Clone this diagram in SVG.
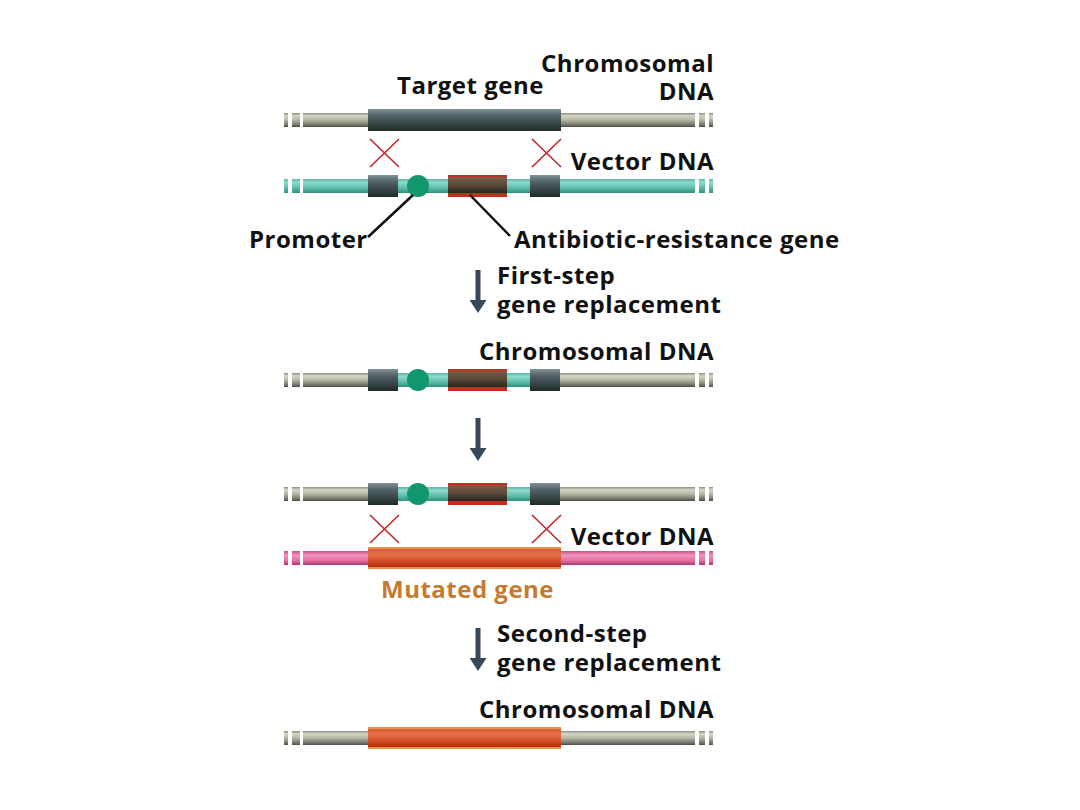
<svg xmlns="http://www.w3.org/2000/svg" width="1080" height="810" viewBox="0 0 1080 810">
<defs>
<linearGradient id="gGray" x1="0" y1="0" x2="0" y2="1">
<stop offset="0" stop-color="#8c8c7e"/><stop offset="0.2" stop-color="#d6d6c6"/><stop offset="0.5" stop-color="#b6b6a4"/><stop offset="0.85" stop-color="#74746a"/><stop offset="1" stop-color="#4a4a42"/>
</linearGradient>
<linearGradient id="gTeal" x1="0" y1="0" x2="0" y2="1">
<stop offset="0" stop-color="#5cb8a8"/><stop offset="0.25" stop-color="#8edac9"/><stop offset="0.6" stop-color="#62c0ae"/><stop offset="1" stop-color="#2f9080"/>
</linearGradient>
<linearGradient id="gPink" x1="0" y1="0" x2="0" y2="1">
<stop offset="0" stop-color="#d04c8c"/><stop offset="0.3" stop-color="#f294bc"/><stop offset="0.7" stop-color="#e070a2"/><stop offset="1" stop-color="#b03272"/>
</linearGradient>
<linearGradient id="gDark" x1="0" y1="0" x2="0" y2="1">
<stop offset="0" stop-color="#82929a"/><stop offset="0.3" stop-color="#526266"/><stop offset="1" stop-color="#1e2b2a"/>
</linearGradient>
<linearGradient id="gBrown" x1="0" y1="0" x2="0" y2="1">
<stop offset="0" stop-color="#7c5c48"/><stop offset="0.5" stop-color="#5a4a3a"/><stop offset="1" stop-color="#2a2520"/>
</linearGradient>
<linearGradient id="gOrange" x1="0" y1="0" x2="0" y2="1">
<stop offset="0" stop-color="#d85a30"/><stop offset="0.3" stop-color="#e4704a"/><stop offset="0.7" stop-color="#cf4a22"/><stop offset="1" stop-color="#b42a10"/>
</linearGradient>
<marker id="ah" viewBox="0 0 10 10" refX="0" refY="5" markerWidth="2.6" markerHeight="3.4" orient="auto" markerUnits="strokeWidth" preserveAspectRatio="none">
<path d="M0,0 L10,5 L0,10 Z" fill="#35495a"/>
</marker>
<g id="grayStrand">
<rect x="284" y="-7" width="4" height="14" fill="url(#gGray)"/>
<rect x="292" y="-7" width="8" height="14" fill="url(#gGray)"/>
<rect x="303" y="-7" width="392" height="14" fill="url(#gGray)"/>
<rect x="699" y="-7" width="6" height="14" fill="url(#gGray)"/>
<rect x="709" y="-7" width="4" height="14" fill="url(#gGray)"/>
</g>
<g id="tealStrand">
<rect x="284" y="-7" width="4" height="14" fill="url(#gTeal)"/>
<rect x="292" y="-7" width="8" height="14" fill="url(#gTeal)"/>
<rect x="303" y="-7" width="392" height="14" fill="url(#gTeal)"/>
<rect x="699" y="-7" width="6" height="14" fill="url(#gTeal)"/>
<rect x="709" y="-7" width="4" height="14" fill="url(#gTeal)"/>
</g>
<g id="pinkStrand">
<rect x="284" y="-7" width="4" height="14" fill="url(#gPink)"/>
<rect x="292" y="-7" width="8" height="14" fill="url(#gPink)"/>
<rect x="303" y="-7" width="392" height="14" fill="url(#gPink)"/>
<rect x="699" y="-7" width="6" height="14" fill="url(#gPink)"/>
<rect x="709" y="-7" width="4" height="14" fill="url(#gPink)"/>
</g>
<g id="insert">
<rect x="398" y="-7" width="132" height="14" fill="url(#gTeal)"/>
<rect x="368" y="-11" width="30" height="22" fill="url(#gDark)"/>
<rect x="530" y="-11" width="30" height="22" fill="url(#gDark)"/>
<rect x="448" y="-11" width="59" height="22" fill="#c0301e"/>
<rect x="448" y="-9" width="59" height="16" fill="url(#gBrown)"/>
<circle cx="418" cy="0" r="11" fill="#12966e"/>
</g>
<g id="cross">
<path d="M0,0 L29,28 M29,0 L0,28" stroke="#c0282a" stroke-width="1.6" fill="none"/>
</g>
</defs>
<style>
text{font-family:"Open Sans","Liberation Sans",sans-serif;font-weight:700;font-size:24px;letter-spacing:0.5px;fill:#111}
.end{text-anchor:end}
.mut{fill:#c67a30}
.lead{stroke:#111;stroke-width:2.5;fill:none}
.arr{stroke:#35495a;stroke-width:5;fill:none}
</style>

<g id="chromosome1">
<use href="#grayStrand" transform="translate(0,120)"/>
<rect x="368" y="109" width="193" height="22" fill="url(#gDark)"/>
<text x="397" y="94">Target gene</text>
<text class="end" x="714" y="72">Chromosomal</text>
<text class="end" x="714" y="100">DNA</text>
</g>

<g id="crossover1">
<use href="#cross" transform="translate(370,139)"/>
<use href="#cross" transform="translate(532,139)"/>
</g>

<g id="vector1">
<use href="#tealStrand" transform="translate(0,186)"/>
<use href="#insert" transform="translate(0,186)"/>
<text class="end" x="714" y="170">Vector DNA</text>
</g>

<g id="promoterLabel">
<text x="249" y="248">Promoter</text>
</g>
<g id="antibioticLabel">
<text x="514" y="248">Antibiotic-resistance gene</text>
</g>

<g id="step1">
<text x="497" y="284">First-step</text>
<text x="497" y="313">gene replacement</text>
</g>

<g id="chromosome2">
<use href="#grayStrand" transform="translate(0,380)"/>
<use href="#insert" transform="translate(0,380)"/>
<text class="end" x="714" y="360">Chromosomal DNA</text>
</g>

<g id="chromosome3">
<use href="#grayStrand" transform="translate(0,494)"/>
<use href="#insert" transform="translate(0,494)"/>
</g>

<g id="crossover2">
<use href="#cross" transform="translate(370,515)"/>
<use href="#cross" transform="translate(532,515)"/>
</g>

<g id="vector2">
<use href="#pinkStrand" transform="translate(0,558)"/>
<rect x="368" y="547" width="193" height="22" fill="#e8914c"/>
<rect x="368" y="549" width="193" height="18" fill="url(#gOrange)"/>
<text class="end" x="714" y="545">Vector DNA</text>
<text class="mut" x="381" y="598">Mutated gene</text>
</g>

<g id="step2">
<text x="497" y="642">Second-step</text>
<text x="497" y="671">gene replacement</text>
</g>

<g id="chromosome4">
<use href="#grayStrand" transform="translate(0,738)"/>
<rect x="368" y="727" width="193" height="22" fill="#e8914c"/>
<rect x="368" y="729" width="193" height="18" fill="url(#gOrange)"/>
<text class="end" x="714" y="718">Chromosomal DNA</text>
</g>

<g id="connectors">
<path class="lead" d="M368,237 L413,195"/>
<path class="lead" d="M470,195 L510,236"/>
<path class="arr" d="M478,270 L478,300" marker-end="url(#ah)"/>
<path class="arr" d="M478,418 L478,448" marker-end="url(#ah)"/>
<path class="arr" d="M478,628 L478,658" marker-end="url(#ah)"/>
</g>
</svg>
